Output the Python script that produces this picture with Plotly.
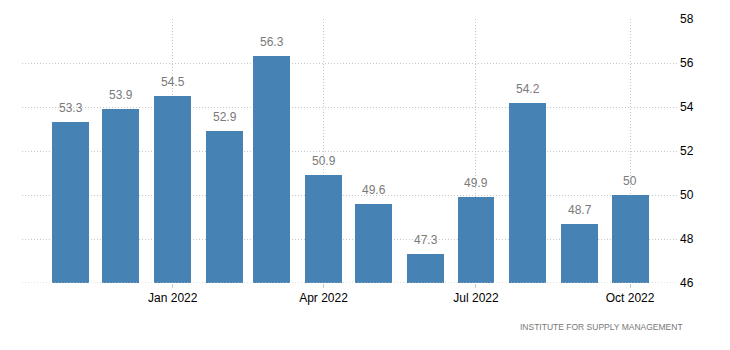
import plotly.graph_objects as go

# Monthly index readings, Nov 2021 - Oct 2022
months = ["2021-11-01", "2021-12-01", "2022-01-01", "2022-02-01", "2022-03-01", "2022-04-01",
          "2022-05-01", "2022-06-01", "2022-07-01", "2022-08-01", "2022-09-01", "2022-10-01"]
values = [53.3, 53.9, 54.5, 52.9, 56.3, 50.9, 49.6, 47.3, 49.9, 54.2, 48.7, 50]
value_labels = ["53.3", "53.9", "54.5", "52.9", "56.3", "50.9", "49.6", "47.3", "49.9", "54.2", "48.7", "50"]

tick_dates = ["2022-01-01", "2022-04-01", "2022-07-01", "2022-10-01"]
tick_labels = ["Jan 2022", "Apr 2022", "Jul 2022", "Oct 2022"]
y_ticks = [46, 48, 50, 52, 54, 56, 58]

DAY_MS = 86400000
BAR = "#4682B4"
GRID = "#c8c8c8"
DOT = "1px,2px"
FONT = "Liberation Sans"

fig = go.Figure()
fig.add_trace(go.Bar(
    x=months, y=values, width=[22 * DAY_MS] * len(values),
    marker=dict(color=BAR, line=dict(width=0)),
    hoverinfo="x+y",
))

for m, v, t in zip(months, values, value_labels):
    fig.add_annotation(x=m, y=v, text=t, showarrow=False, yanchor="bottom", yshift=5,
                       font=dict(family=FONT, size=12, color="#7a7a7a"))

# baseline at the bottom of the value range
fig.add_shape(type="line", xref="paper", yref="y", x0=0, x1=1, y0=y_ticks[0], y1=y_ticks[0],
              line=dict(color=GRID, width=1, dash=DOT), layer="above")

fig.add_annotation(xref="paper", yref="paper", x=1.012, y=-0.14, xanchor="right", yanchor="top",
                   text="INSTITUTE FOR SUPPLY MANAGEMENT", showarrow=False,
                   font=dict(family=FONT, size=8.5, color="#777777"))

fig.update_layout(
    width=730, height=350,
    margin=dict(l=22, r=53, t=19, b=67),
    paper_bgcolor="white", plot_bgcolor="white",
    showlegend=False,
    bargap=0,
    font=dict(family=FONT, size=12, color="#000000"),
    xaxis=dict(
        type="date", range=["2021-10-03", "2022-10-29"],
        tickvals=tick_dates, ticktext=tick_labels,
        showgrid=True, gridcolor=GRID, griddash=DOT, gridwidth=1,
        ticks="outside", ticklen=4, tickcolor=GRID,
        showline=False, zeroline=False,
        tickfont=dict(family=FONT, size=12, color="#000000"),
    ),
    yaxis=dict(
        side="right", range=[46, 58], tickvals=y_ticks,
        showgrid=True, gridcolor=GRID, griddash=DOT, gridwidth=1,
        zeroline=False, showline=False, ticks="",
        ticklabelstandoff=2,
        tickfont=dict(family=FONT, size=12, color="#000000"),
    ),
)

fig.write_html("out.html")
